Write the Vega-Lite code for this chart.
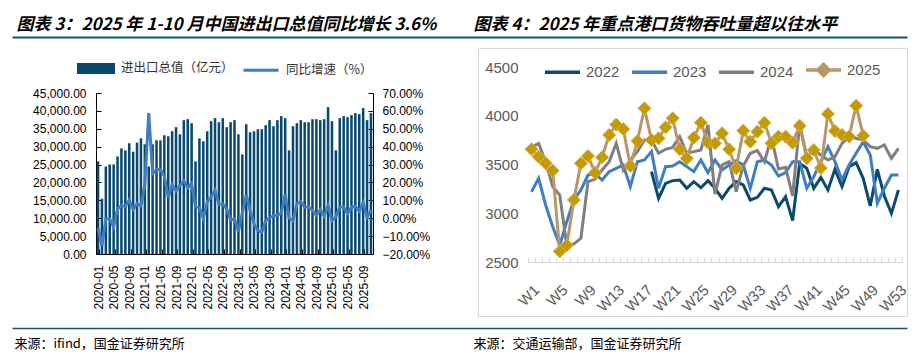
{
  "$schema": "https://vega.github.io/schema/vega-lite/v6.json",
  "width": 921,
  "height": 354,
  "autosize": {"type": "none"},
  "padding": 0,
  "background": "white",
  "config": {
    "font": "Liberation Sans",
    "view": {"stroke": null},
    "axis": {"labelFont": "Liberation Sans", "grid": false}
  },
  "datasets": {
    "blank": [{"t": 0}],
    "trade": [
      {"month": "2020-01", "total": 25880, "yoy": -0.054},
      {"month": "2020-02", "total": 15470, "yoy": -0.155},
      {"month": "2020-03", "total": 24470, "yoy": -0.003},
      {"month": "2020-04", "total": 25030, "yoy": -0.003},
      {"month": "2020-05", "total": 25030, "yoy": -0.05},
      {"month": "2020-06", "total": 27280, "yoy": 0.053},
      {"month": "2020-07", "total": 29530, "yoy": 0.07},
      {"month": "2020-08", "total": 28970, "yoy": 0.066},
      {"month": "2020-09", "total": 30940, "yoy": 0.1},
      {"month": "2020-10", "total": 28590, "yoy": 0.048},
      {"month": "2020-11", "total": 31130, "yoy": 0.081},
      {"month": "2020-12", "total": 32340, "yoy": 0.07},
      {"month": "2021-01", "total": 30660, "yoy": 0.19},
      {"month": "2021-02", "total": 24470, "yoy": 0.588},
      {"month": "2021-03", "total": 30660, "yoy": 0.25},
      {"month": "2021-04", "total": 31780, "yoy": 0.273},
      {"month": "2021-05", "total": 31780, "yoy": 0.273},
      {"month": "2021-06", "total": 33190, "yoy": 0.235},
      {"month": "2021-07", "total": 32910, "yoy": 0.115},
      {"month": "2021-08", "total": 34310, "yoy": 0.188},
      {"month": "2021-09", "total": 35440, "yoy": 0.153},
      {"month": "2021-10", "total": 33470, "yoy": 0.183},
      {"month": "2021-11", "total": 37410, "yoy": 0.209},
      {"month": "2021-12", "total": 37690, "yoy": 0.171},
      {"month": "2022-01", "total": 36560, "yoy": 0.194},
      {"month": "2022-02", "total": 25880, "yoy": 0.063},
      {"month": "2022-03", "total": 32340, "yoy": 0.059},
      {"month": "2022-04", "total": 31500, "yoy": -0.001},
      {"month": "2022-05", "total": 34310, "yoy": 0.091},
      {"month": "2022-06", "total": 37130, "yoy": 0.119},
      {"month": "2022-07", "total": 37970, "yoy": 0.156},
      {"month": "2022-08", "total": 36840, "yoy": 0.078},
      {"month": "2022-09", "total": 37970, "yoy": 0.081},
      {"month": "2022-10", "total": 35440, "yoy": 0.053},
      {"month": "2022-11", "total": 36840, "yoy": -0.009},
      {"month": "2022-12", "total": 37410, "yoy": -0.003},
      {"month": "2023-01", "total": 33470, "yoy": -0.076},
      {"month": "2023-02", "total": 27840, "yoy": 0.03},
      {"month": "2023-03", "total": 36280, "yoy": 0.132},
      {"month": "2023-04", "total": 34030, "yoy": 0.044},
      {"month": "2023-05", "total": 34310, "yoy": -0.031},
      {"month": "2023-06", "total": 34880, "yoy": -0.069},
      {"month": "2023-07", "total": 34880, "yoy": -0.078},
      {"month": "2023-08", "total": 36000, "yoy": -0.013},
      {"month": "2023-09", "total": 37410, "yoy": 0.003},
      {"month": "2023-10", "total": 35720, "yoy": 0.014},
      {"month": "2023-11", "total": 37410, "yoy": 0.016},
      {"month": "2023-12", "total": 38530, "yoy": 0.029},
      {"month": "2024-01", "total": 37970, "yoy": 0.134},
      {"month": "2024-02", "total": 28970, "yoy": -0.001},
      {"month": "2024-03", "total": 35720, "yoy": -0.013},
      {"month": "2024-04", "total": 36560, "yoy": 0.081},
      {"month": "2024-05", "total": 37410, "yoy": 0.091},
      {"month": "2024-06", "total": 36840, "yoy": 0.063},
      {"month": "2024-07", "total": 36840, "yoy": 0.063},
      {"month": "2024-08", "total": 37690, "yoy": 0.044},
      {"month": "2024-09", "total": 37690, "yoy": 0.016},
      {"month": "2024-10", "total": 37410, "yoy": 0.048},
      {"month": "2024-11", "total": 37690, "yoy": 0.012},
      {"month": "2024-12", "total": 41060, "yoy": 0.07},
      {"month": "2025-01", "total": 37130, "yoy": -0.013},
      {"month": "2025-02", "total": 28970, "yoy": 0.006},
      {"month": "2025-03", "total": 37970, "yoy": 0.063},
      {"month": "2025-04", "total": 38530, "yoy": 0.063},
      {"month": "2025-05", "total": 38250, "yoy": 0.025},
      {"month": "2025-06", "total": 38810, "yoy": 0.063},
      {"month": "2025-07", "total": 39380, "yoy": 0.066},
      {"month": "2025-08", "total": 39100, "yoy": 0.038},
      {"month": "2025-09", "total": 40780, "yoy": 0.087},
      {"month": "2025-10", "total": 37410, "yoy": 0.006},
      {"month": "2025-11", "total": 39380, "yoy": 0.044}
    ],
    "ports": [
      {"week": "W18", "year": "2022", "value": 3427}, {"week": "W19", "year": "2022", "value": 3153}, {"week": "W20", "year": "2022", "value": 3307}, {"week": "W21", "year": "2022", "value": 3334}, {"week": "W22", "year": "2022", "value": 3341}, {"week": "W23", "year": "2022", "value": 3256}, {"week": "W24", "year": "2022", "value": 3324}, {"week": "W25", "year": "2022", "value": 3262}, {"week": "W26", "year": "2022", "value": 3334}, {"week": "W27", "year": "2022", "value": 3256}, {"week": "W28", "year": "2022", "value": 3153}, {"week": "W29", "year": "2022", "value": 3256}, {"week": "W30", "year": "2022", "value": 3324}, {"week": "W31", "year": "2022", "value": 3290}, {"week": "W32", "year": "2022", "value": 3136}, {"week": "W33", "year": "2022", "value": 3163}, {"week": "W34", "year": "2022", "value": 3256}, {"week": "W35", "year": "2022", "value": 3239}, {"week": "W36", "year": "2022", "value": 3068}, {"week": "W37", "year": "2022", "value": 3170}, {"week": "W38", "year": "2022", "value": 2924}, {"week": "W39", "year": "2022", "value": 3512}, {"week": "W40", "year": "2022", "value": 3461}, {"week": "W41", "year": "2022", "value": 3256}, {"week": "W42", "year": "2022", "value": 3368}, {"week": "W43", "year": "2022", "value": 3239}, {"week": "W44", "year": "2022", "value": 3450}, {"week": "W45", "year": "2022", "value": 3273}, {"week": "W46", "year": "2022", "value": 3478}, {"week": "W47", "year": "2022", "value": 3519}, {"week": "W48", "year": "2022", "value": 3358}, {"week": "W49", "year": "2022", "value": 3075}, {"week": "W50", "year": "2022", "value": 3450}, {"week": "W51", "year": "2022", "value": 3177}, {"week": "W52", "year": "2022", "value": 2999}, {"week": "W53", "year": "2022", "value": 3239},
      {"week": "W1", "year": "2023", "value": 3221}, {"week": "W2", "year": "2023", "value": 3358}, {"week": "W3", "year": "2023", "value": 3085}, {"week": "W4", "year": "2023", "value": 2862}, {"week": "W5", "year": "2023", "value": 2674}, {"week": "W6", "year": "2023", "value": 2914}, {"week": "W7", "year": "2023", "value": 3136}, {"week": "W8", "year": "2023", "value": 3239}, {"week": "W9", "year": "2023", "value": 3392}, {"week": "W10", "year": "2023", "value": 3409}, {"week": "W11", "year": "2023", "value": 3341}, {"week": "W12", "year": "2023", "value": 3427}, {"week": "W13", "year": "2023", "value": 3461}, {"week": "W14", "year": "2023", "value": 3495}, {"week": "W15", "year": "2023", "value": 3273}, {"week": "W16", "year": "2023", "value": 3529}, {"week": "W17", "year": "2023", "value": 3546}, {"week": "W18", "year": "2023", "value": 3632}, {"week": "W19", "year": "2023", "value": 3256}, {"week": "W20", "year": "2023", "value": 3478}, {"week": "W21", "year": "2023", "value": 3485}, {"week": "W22", "year": "2023", "value": 3529}, {"week": "W23", "year": "2023", "value": 3478}, {"week": "W24", "year": "2023", "value": 3427}, {"week": "W25", "year": "2023", "value": 3546}, {"week": "W26", "year": "2023", "value": 3416}, {"week": "W27", "year": "2023", "value": 3546}, {"week": "W28", "year": "2023", "value": 3444}, {"week": "W29", "year": "2023", "value": 3495}, {"week": "W30", "year": "2023", "value": 3539}, {"week": "W31", "year": "2023", "value": 3495}, {"week": "W32", "year": "2023", "value": 3256}, {"week": "W33", "year": "2023", "value": 3529}, {"week": "W34", "year": "2023", "value": 3546}, {"week": "W35", "year": "2023", "value": 3495}, {"week": "W36", "year": "2023", "value": 3382}, {"week": "W37", "year": "2023", "value": 3416}, {"week": "W38", "year": "2023", "value": 3529}, {"week": "W39", "year": "2023", "value": 3529}, {"week": "W40", "year": "2023", "value": 3256}, {"week": "W41", "year": "2023", "value": 3375}, {"week": "W42", "year": "2023", "value": 3529}, {"week": "W43", "year": "2023", "value": 3683}, {"week": "W44", "year": "2023", "value": 3529}, {"week": "W45", "year": "2023", "value": 3341}, {"week": "W46", "year": "2023", "value": 3495}, {"week": "W47", "year": "2023", "value": 3615}, {"week": "W48", "year": "2023", "value": 3734}, {"week": "W49", "year": "2023", "value": 3597}, {"week": "W50", "year": "2023", "value": 3102}, {"week": "W51", "year": "2023", "value": 3256}, {"week": "W52", "year": "2023", "value": 3392}, {"week": "W53", "year": "2023", "value": 3392},
      {"week": "W1", "year": "2024", "value": 3676}, {"week": "W2", "year": "2024", "value": 3717}, {"week": "W3", "year": "2024", "value": 3529}, {"week": "W4", "year": "2024", "value": 3273}, {"week": "W5", "year": "2024", "value": 3187}, {"week": "W6", "year": "2024", "value": 2664}, {"week": "W7", "year": "2024", "value": 2685}, {"week": "W8", "year": "2024", "value": 2743}, {"week": "W9", "year": "2024", "value": 3324}, {"week": "W10", "year": "2024", "value": 3348}, {"week": "W11", "year": "2024", "value": 3444}, {"week": "W12", "year": "2024", "value": 3529}, {"week": "W13", "year": "2024", "value": 3717}, {"week": "W14", "year": "2024", "value": 3444}, {"week": "W15", "year": "2024", "value": 3546}, {"week": "W16", "year": "2024", "value": 3632}, {"week": "W17", "year": "2024", "value": 3751}, {"week": "W18", "year": "2024", "value": 3751}, {"week": "W19", "year": "2024", "value": 3615}, {"week": "W20", "year": "2024", "value": 3656}, {"week": "W21", "year": "2024", "value": 3676}, {"week": "W22", "year": "2024", "value": 3786}, {"week": "W23", "year": "2024", "value": 3615}, {"week": "W24", "year": "2024", "value": 3632}, {"week": "W25", "year": "2024", "value": 3649}, {"week": "W26", "year": "2024", "value": 3905}, {"week": "W27", "year": "2024", "value": 3197}, {"week": "W28", "year": "2024", "value": 3495}, {"week": "W29", "year": "2024", "value": 3529}, {"week": "W30", "year": "2024", "value": 3221}, {"week": "W31", "year": "2024", "value": 3485}, {"week": "W32", "year": "2024", "value": 3615}, {"week": "W33", "year": "2024", "value": 3642}, {"week": "W34", "year": "2024", "value": 3529}, {"week": "W35", "year": "2024", "value": 3779}, {"week": "W36", "year": "2024", "value": 3454}, {"week": "W37", "year": "2024", "value": 3471}, {"week": "W38", "year": "2024", "value": 3177}, {"week": "W39", "year": "2024", "value": 3922}, {"week": "W40", "year": "2024", "value": 3580}, {"week": "W41", "year": "2024", "value": 3649}, {"week": "W42", "year": "2024", "value": 3597}, {"week": "W43", "year": "2024", "value": 3546}, {"week": "W44", "year": "2024", "value": 3580}, {"week": "W45", "year": "2024", "value": 3717}, {"week": "W46", "year": "2024", "value": 3786}, {"week": "W47", "year": "2024", "value": 3768}, {"week": "W48", "year": "2024", "value": 3751}, {"week": "W49", "year": "2024", "value": 3683}, {"week": "W50", "year": "2024", "value": 3666}, {"week": "W51", "year": "2024", "value": 3700}, {"week": "W52", "year": "2024", "value": 3563}, {"week": "W53", "year": "2024", "value": 3666},
      {"week": "W1", "year": "2025", "value": 3656}, {"week": "W2", "year": "2025", "value": 3580}, {"week": "W3", "year": "2025", "value": 3512}, {"week": "W4", "year": "2025", "value": 3437}, {"week": "W5", "year": "2025", "value": 2609}, {"week": "W6", "year": "2025", "value": 2671}, {"week": "W7", "year": "2025", "value": 3136}, {"week": "W8", "year": "2025", "value": 3512}, {"week": "W9", "year": "2025", "value": 3587}, {"week": "W10", "year": "2025", "value": 3416}, {"week": "W11", "year": "2025", "value": 3574}, {"week": "W12", "year": "2025", "value": 3803}, {"week": "W13", "year": "2025", "value": 3909}, {"week": "W14", "year": "2025", "value": 3864}, {"week": "W15", "year": "2025", "value": 3485}, {"week": "W16", "year": "2025", "value": 3741}, {"week": "W17", "year": "2025", "value": 4076}, {"week": "W18", "year": "2025", "value": 3751}, {"week": "W19", "year": "2025", "value": 3768}, {"week": "W20", "year": "2025", "value": 3881}, {"week": "W21", "year": "2025", "value": 3974}, {"week": "W22", "year": "2025", "value": 3656}, {"week": "W23", "year": "2025", "value": 3563}, {"week": "W24", "year": "2025", "value": 3775}, {"week": "W25", "year": "2025", "value": 3929}, {"week": "W26", "year": "2025", "value": 3724}, {"week": "W27", "year": "2025", "value": 3717}, {"week": "W28", "year": "2025", "value": 3820}, {"week": "W29", "year": "2025", "value": 3656}, {"week": "W30", "year": "2025", "value": 3461}, {"week": "W31", "year": "2025", "value": 3847}, {"week": "W32", "year": "2025", "value": 3734}, {"week": "W33", "year": "2025", "value": 3837}, {"week": "W34", "year": "2025", "value": 3929}, {"week": "W35", "year": "2025", "value": 3717}, {"week": "W36", "year": "2025", "value": 3786}, {"week": "W37", "year": "2025", "value": 3786}, {"week": "W38", "year": "2025", "value": 3724}, {"week": "W39", "year": "2025", "value": 3898}, {"week": "W40", "year": "2025", "value": 3563}, {"week": "W41", "year": "2025", "value": 3649}, {"week": "W42", "year": "2025", "value": 3464}, {"week": "W43", "year": "2025", "value": 4018}, {"week": "W44", "year": "2025", "value": 3844}, {"week": "W45", "year": "2025", "value": 3803}, {"week": "W46", "year": "2025", "value": 3786}, {"week": "W47", "year": "2025", "value": 4103}, {"week": "W48", "year": "2025", "value": 3796}
    ]
  },
  "layer": [
    {
      "data": {"name": "blank"},
      "mark": {"type": "point", "opacity": 0},
      "encoding": {
        "x": {"field": "t", "type": "quantitative", "scale": {"domain": [0, 1], "range": [12, 907]},
          "axis": {"orient": "top", "offset": -37, "labels": false, "ticks": false, "grid": false, "domainColor": "#15506F", "domainWidth": 2,
            "title": "图表 3：2025 年 1-10 月中国进出口总值同比增长 3.6%", "titleX": 16, "titleY": -8, "titleAlign": "left", "titleBaseline": "alphabetic", "titleAngle": 0, "titleFont": "Noto Sans CJK SC", "titleFontSize": 17, "titleFontWeight": "bold", "titleFontStyle": "italic", "titleColor": "#000000"}}
      }
    },
    {
      "data": {"name": "blank"},
      "mark": {"type": "point", "opacity": 0},
      "encoding": {
        "x": {"field": "t", "type": "quantitative", "scale": {"domain": [0, 1], "range": [12, 907]},
          "axis": {"orient": "bottom", "offset": -26, "labels": false, "ticks": false, "grid": false, "domainColor": "#15506F", "domainWidth": 1.5,
            "title": "来源：ifind，国金证券研究所", "titleX": 14, "titleY": 15, "titleAlign": "left", "titleBaseline": "middle", "titleAngle": 0, "titleFont": "Noto Sans CJK SC", "titleFontSize": 13, "titleFontWeight": "normal", "titleColor": "#000000"}}
      }
    },
    {
      "data": {"name": "blank"},
      "mark": {"type": "point", "opacity": 0},
      "encoding": {
        "x": {"field": "t", "type": "quantitative", "scale": {"domain": [0, 1], "range": [478, 907]},
          "axis": {"orient": "top", "offset": -48, "labels": false, "ticks": false, "grid": false, "domainColor": "#D9D9D9", "domainWidth": 1,
            "title": "图表 4：2025 年重点港口货物吞吐量超以往水平", "titleX": 473, "titleY": -19, "titleAlign": "left", "titleBaseline": "alphabetic", "titleAngle": 0, "titleFont": "Noto Sans CJK SC", "titleFontSize": 17, "titleFontWeight": "bold", "titleFontStyle": "italic", "titleColor": "#000000"}},
        "y": {"field": "t", "type": "quantitative", "scale": {"domain": [0, 1], "range": [316, 48]},
          "axis": {"orient": "left", "offset": -478, "labels": false, "ticks": false, "grid": false, "title": null, "domainColor": "#D9D9D9", "domainWidth": 1}}
      }
    },
    {
      "data": {"name": "blank"},
      "mark": {"type": "point", "opacity": 0},
      "encoding": {
        "x": {"field": "t", "type": "quantitative", "scale": {"domain": [0, 1], "range": [478, 907]},
          "axis": {"orient": "bottom", "offset": -38, "labels": false, "ticks": false, "grid": false, "domainColor": "#D9D9D9", "domainWidth": 1,
            "title": "来源：交通运输部，国金证券研究所", "titleX": 473, "titleY": 27, "titleAlign": "left", "titleBaseline": "middle", "titleAngle": 0, "titleFont": "Noto Sans CJK SC", "titleFontSize": 13, "titleFontWeight": "normal", "titleColor": "#000000"}},
        "y": {"field": "t", "type": "quantitative", "scale": {"domain": [0, 1], "range": [316, 48]},
          "axis": {"orient": "right", "offset": -14, "labels": false, "ticks": false, "grid": false, "title": null, "domainColor": "#D9D9D9", "domainWidth": 1}}
      }
    },
    {
      "data": {"name": "trade"},
      "encoding": {
        "x": {"field": "month", "type": "ordinal", "scale": {"range": [96, 373], "paddingInner": 0.35, "paddingOuter": 0.2},
          "axis": {"orient": "bottom", "offset": -100, "title": null, "values": ["2020-01","2020-05","2020-09","2021-01","2021-05","2021-09","2022-01","2022-05","2022-09","2023-01","2023-05","2023-09","2024-01","2024-05","2024-09","2025-01","2025-05","2025-09"], "tickBand": "extent", "tickSize": -5, "tickColor": "#000000", "domainColor": "#000000", "labelAngle": -90, "labelFontSize": 12, "labelColor": "#000000", "labelPadding": 16}}
      },
      "layer": [
        {
          "mark": {"type": "bar"},
          "encoding": {
            "y": {"field": "total", "type": "quantitative", "scale": {"domain": [0, 45000], "range": [254, 93], "nice": false},
              "axis": {"orient": "left", "offset": -96, "title": null, "values": [0,5000,10000,15000,20000,25000,30000,35000,40000,45000], "format": ",.2f", "tickSize": -5, "labelPadding": 15, "tickColor": "#000000", "domainColor": "#000000", "labelFontSize": 12, "labelColor": "#000000"}},
            "color": {"datum": "进出口总值（亿元）", "type": "nominal",
              "scale": {"domain": ["进出口总值（亿元）", "同比增速（%）"], "range": ["#08496D", "#3F7DC1"]},
              "legend": {"orient": "none", "legendX": 77, "legendY": 49, "direction": "horizontal", "title": null, "symbolSize": 1225, "symbolStrokeWidth": 3, "labelFont": "Noto Sans CJK SC", "labelFontSize": 12.5, "labelColor": "#333333", "labelOffset": 6, "columnPadding": 3,
                "encode": {"symbols": {"update": {
                  "shape": {"signal": "datum.value === '同比增速（%）' ? 'M-1,0H1' : 'M-1,-0.23H1V0.23H-1Z'"},
                  "fill": {"signal": "datum.value === '同比增速（%）' ? 'transparent' : '#08496D'"},
                  "stroke": {"signal": "datum.value === '同比增速（%）' ? '#3F7DC1' : 'transparent'"}
                }}}}
            }
          }
        },
        {
          "mark": {"type": "line", "strokeWidth": 3},
          "encoding": {
            "y": {"field": "yoy", "type": "quantitative", "scale": {"domain": [-0.2, 0.7], "range": [254, 93], "nice": false, "zero": false},
              "axis": {"orient": "right", "offset": -548, "title": null, "values": [-0.2, -0.1, 0, 0.1, 0.2, 0.3, 0.4, 0.5, 0.6, 0.7], "format": ".2%", "tickSize": -5, "labelPadding": 14, "tickColor": "#000000", "domainColor": "#000000", "labelFontSize": 12, "labelColor": "#000000"}},
            "color": {"datum": "同比增速（%）", "type": "nominal"}
          }
        }
      ],
      "resolve": {"scale": {"y": "independent"}}
    },
    {
      "data": {"name": "ports"},
      "encoding": {
        "x": {"field": "week", "type": "ordinal",
          "scale": {"domain": ["W1","W2","W3","W4","W5","W6","W7","W8","W9","W10","W11","W12","W13","W14","W15","W16","W17","W18","W19","W20","W21","W22","W23","W24","W25","W26","W27","W28","W29","W30","W31","W32","W33","W34","W35","W36","W37","W38","W39","W40","W41","W42","W43","W44","W45","W46","W47","W48","W49","W50","W51","W52","W53"], "range": [528, 902], "paddingInner": 0, "paddingOuter": 0},
          "axis": {"orient": "bottom", "offset": -92, "title": null, "tickBand": "extent", "tickSize": -5, "tickColor": "#D9D9D9", "domainColor": "#D9D9D9", "labelAngle": -45, "labelFontSize": 15, "labelColor": "#595959", "labelPadding": 25, "labelOverlap": false,
            "labelExpr": "indexof(['W1','W5','W9','W13','W17','W21','W25','W29','W33','W37','W41','W45','W49','W53'], datum.label) >= 0 ? datum.label : ''"}},
        "y": {"field": "value", "type": "quantitative", "scale": {"domain": [2500, 4500], "range": [262, 67], "nice": false, "zero": false},
          "axis": {"orient": "left", "offset": -523, "title": null, "domain": false, "ticks": false, "labelPadding": 5, "format": "d", "values": [2500, 3000, 3500, 4000, 4500], "labelFontSize": 15, "labelColor": "#595959"}}
      },
      "layer": [
        {
          "mark": {"type": "line", "strokeWidth": 3},
          "encoding": {
            "color": {"field": "year", "type": "nominal",
              "scale": {"domain": ["2022", "2023", "2024", "2025"], "range": ["#0B4A6C", "#3E7EC3", "#7F7F7F", "#B8966A"]},
              "legend": {"orient": "none", "legendX": 543, "legendY": 50, "direction": "horizontal", "title": null, "symbolSize": 1225, "symbolStrokeWidth": 3.5, "labelFontSize": 15, "labelColor": "#595959", "labelOffset": 4, "columnPadding": 5,
                "encode": {"symbols": {"update": {
                  "shape": {"signal": "datum.value === '2025' ? 'M-1,0H1M0,-0.32L0.32,0L0,0.32L-0.32,0Z' : 'M-1,0H1'"},
                  "fill": {"signal": "datum.value === '2025' ? '#C49A00' : 'transparent'"}
                }}}}
            }
          }
        },
        {
          "transform": [{"filter": "datum.year === '2025'"}],
          "mark": {"type": "point", "shape": "diamond", "filled": true, "size": 170, "color": "#C49A00", "stroke": "#D6B24A", "strokeWidth": 1, "opacity": 1}
        }
      ]
    }
  ],
  "resolve": {
    "scale": {"x": "independent", "y": "independent", "color": "independent"},
    "axis": {"x": "independent", "y": "independent"},
    "legend": {"color": "independent"}
  }
}
